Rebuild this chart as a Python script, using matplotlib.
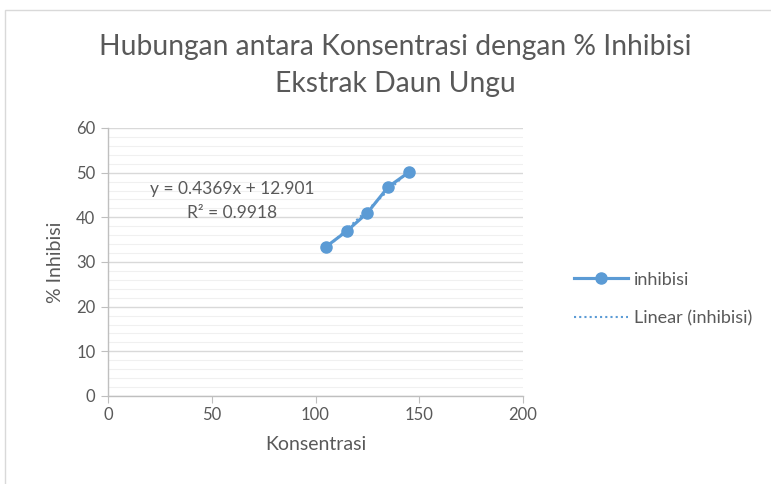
import numpy as np
import matplotlib
matplotlib.use("Agg")
import matplotlib.pyplot as plt
from matplotlib.patches import Rectangle
from matplotlib.ticker import MultipleLocator

# data
konsentrasi = [105, 115, 125, 135, 145]
inhibisi = [33.4, 36.9, 41.0, 46.8, 50.1]
equation_text = "y = 0.4369x + 12.901"
r2_text = "R² = 0.9918"

plt.rcParams['font.family'] = ['Lato', 'DejaVu Sans']
text_color = "#595959"
blue = "#5b9bd5"

fig = plt.figure(figsize=(7.71, 4.84), dpi=100)
fig.patches.append(Rectangle((5 / 771, -0.01), 1.0, 1 - 10 / 484 + 0.01,
                             transform=fig.transFigure, fill=False,
                             edgecolor="#d9d9d9", linewidth=1))

ax = fig.add_axes([108 / 771, 1 - 396 / 484, 415 / 771, 268 / 484])

# trendline (dotted) fitted on the points
slope, intercept = np.polyfit(konsentrasi, inhibisi, 1)
xs = np.array([min(konsentrasi), max(konsentrasi)])
ax.plot(xs, slope * xs + intercept, linestyle=(0, (1, 1.5)), color=blue,
        linewidth=1.5, label="Linear (inhibisi)", zorder=2)
ax.plot(konsentrasi, inhibisi, color=blue, linewidth=2.25, marker="o",
        markersize=8, label="inhibisi", zorder=3)

ax.set_xlim(0, 200)
ax.set_ylim(0, 60)
ax.xaxis.set_major_locator(MultipleLocator(50))
ax.yaxis.set_major_locator(MultipleLocator(10))
ax.yaxis.set_minor_locator(MultipleLocator(2))
ax.grid(which="major", axis="y", color="#d9d9d9", linewidth=1)
ax.grid(which="minor", axis="y", color="#f0f0f0", linewidth=0.8)
ax.set_axisbelow(True)

for side in ["top", "right"]:
    ax.spines[side].set_visible(False)
for side in ["left", "bottom"]:
    ax.spines[side].set_color("#bfbfbf")
    ax.spines[side].set_linewidth(1)
ax.tick_params(which="major", colors="#bfbfbf", labelcolor=text_color,
               labelsize=12, length=5)
ax.tick_params(axis="y", which="minor", length=0)
ax.tick_params(axis="y", pad=4)
ax.tick_params(axis="x", pad=3)

ax.set_xlabel("Konsentrasi", fontsize=14, color=text_color, labelpad=9)
ax.set_ylabel("% Inhibisi", fontsize=14, color=text_color, labelpad=9)

ax.text(59.8, 46.3, equation_text, fontsize=12.5, color=text_color, ha="center", va="center")
ax.text(59.8, 41.0, r2_text, fontsize=12.5, color=text_color, ha="center", va="center")

fig.text(395 / 771, 1 - 47 / 484, "Hubungan antara Konsentrasi dengan % Inhibisi",
         fontsize=20.3, color=text_color, ha="center", va="center")
fig.text(395 / 771, 1 - 84 / 484, "Ekstrak Daun Ungu",
         fontsize=20.3, color=text_color, ha="center", va="center")

handles, labels = ax.get_legend_handles_labels()
fig.legend(handles[::-1], labels[::-1], loc="center left",
           bbox_to_anchor=(558 / 771, 1 - 299 / 484), frameon=False,
           fontsize=13, labelcolor=text_color, handlelength=3.0,
           labelspacing=1.25, handletextpad=0.3)

fig.savefig("out.png", dpi=100)
